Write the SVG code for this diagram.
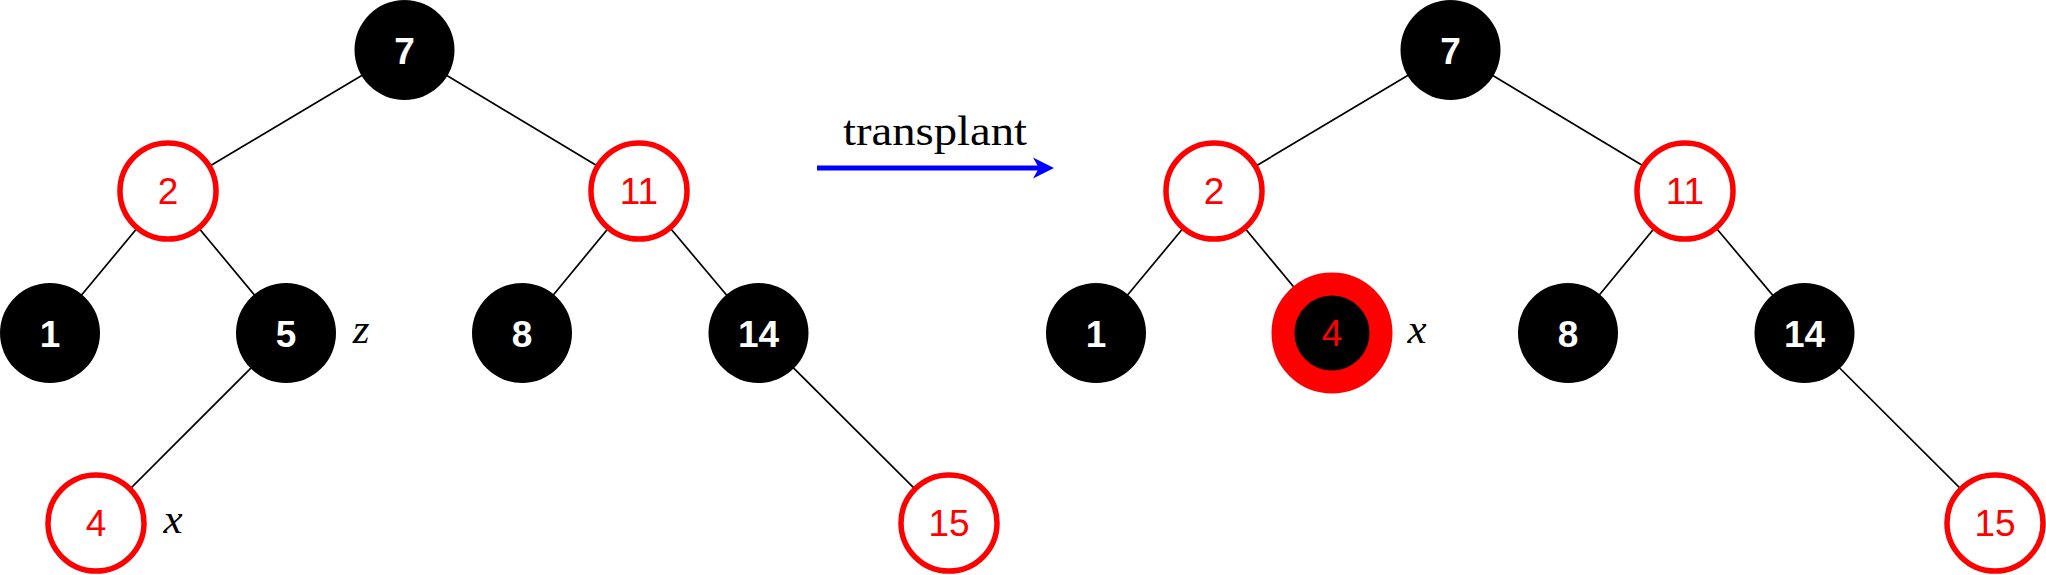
<svg xmlns="http://www.w3.org/2000/svg" width="2046" height="575" viewBox="0 0 2046 575">
<style>
.edge{stroke:#000;stroke-width:1.7;fill:none}
.blk{fill:#000}
.red{fill:#fff;stroke:#f00;stroke-width:5.5}
.bt{font-family:"Liberation Sans",Arial,sans-serif;font-weight:bold;font-size:37px;fill:#fff;text-anchor:middle}
.rt{font-family:"Liberation Sans",Arial,sans-serif;font-size:37px;fill:#f00;text-anchor:middle}
.lbl{font-family:"Liberation Serif","Times New Roman",serif;font-style:italic;font-size:43px;fill:#000;text-anchor:middle}
</style>
<rect width="2046" height="575" fill="#fff"/>
<g id="connectors">
<line class="edge" x1="404.5" y1="50" x2="168" y2="191"/>
<line class="edge" x1="404.5" y1="50" x2="639" y2="191"/>
<line class="edge" x1="168" y1="191" x2="50" y2="333"/>
<line class="edge" x1="168" y1="191" x2="286" y2="333"/>
<line class="edge" x1="639" y1="191" x2="522" y2="333"/>
<line class="edge" x1="639" y1="191" x2="758.5" y2="333"/>
<line class="edge" x1="286" y1="333" x2="96" y2="523"/>
<line class="edge" x1="758.5" y1="333" x2="949" y2="523"/>
<line class="edge" x1="1450.5" y1="50" x2="1214" y2="191"/>
<line class="edge" x1="1450.5" y1="50" x2="1685" y2="191"/>
<line class="edge" x1="1214" y1="191" x2="1096" y2="333"/>
<line class="edge" x1="1214" y1="191" x2="1332" y2="333"/>
<line class="edge" x1="1685" y1="191" x2="1568" y2="333"/>
<line class="edge" x1="1685" y1="191" x2="1804.5" y2="333"/>
<line class="edge" x1="1804.5" y1="333" x2="1995" y2="523"/>
<g id="transplant-arrow">
<line x1="817" y1="168" x2="1040" y2="168" stroke="#00f" stroke-width="5"/>
<path d="M1054,168 L1033,157.5 L1039,168 L1033,178.5 Z" fill="#00f"/>
<text x="935" y="145" font-family="'Liberation Serif','Times New Roman',serif" font-size="42" text-anchor="middle" textLength="184" lengthAdjust="spacingAndGlyphs">transplant</text>
</g>
</g>
<g id="L7"><circle class="blk" cx="404.5" cy="50" r="50"/><text class="bt" x="404.5" y="63.5">7</text></g>
<g id="L2"><circle class="red" cx="168" cy="191" r="48"/><text class="rt" x="168" y="204">2</text></g>
<g id="L11"><circle class="red" cx="639" cy="191" r="48"/><text class="rt" x="639" y="204">11</text></g>
<g id="L1"><circle class="blk" cx="50" cy="333" r="50"/><text class="bt" x="50" y="346.5">1</text></g>
<g id="L5"><circle class="blk" cx="286" cy="333" r="50"/><text class="bt" x="286" y="346.5">5</text></g>
<g id="L8"><circle class="blk" cx="522" cy="333" r="50"/><text class="bt" x="522" y="346.5">8</text></g>
<g id="L14"><circle class="blk" cx="758.5" cy="333" r="50"/><text class="bt" x="758.5" y="346.5">14</text></g>
<g id="L4"><circle class="red" cx="96" cy="523" r="48"/><text class="rt" x="96" y="536">4</text></g>
<g id="L15"><circle class="red" cx="949" cy="523" r="48"/><text class="rt" x="949" y="536">15</text></g>
<g id="Lz"><text class="lbl" x="361" y="343">z</text></g>
<g id="Lx"><text class="lbl" x="173" y="533">x</text></g>
<g id="R7"><circle class="blk" cx="1450.5" cy="50" r="50"/><text class="bt" x="1450.5" y="63.5">7</text></g>
<g id="R2"><circle class="red" cx="1214" cy="191" r="48"/><text class="rt" x="1214" y="204">2</text></g>
<g id="R11"><circle class="red" cx="1685" cy="191" r="48"/><text class="rt" x="1685" y="204">11</text></g>
<g id="R1"><circle class="blk" cx="1096" cy="333" r="50"/><text class="bt" x="1096" y="346.5">1</text></g>
<g id="R4"><circle cx="1332" cy="333" r="49" fill="#000" stroke="#f00" stroke-width="23"/><text class="rt" x="1332" y="346">4</text></g>
<g id="R8"><circle class="blk" cx="1568" cy="333" r="50"/><text class="bt" x="1568" y="346.5">8</text></g>
<g id="R14"><circle class="blk" cx="1804.5" cy="333" r="50"/><text class="bt" x="1804.5" y="346.5">14</text></g>
<g id="R15"><circle class="red" cx="1995" cy="523" r="48"/><text class="rt" x="1995" y="536">15</text></g>
<g id="Rx"><text class="lbl" x="1417" y="343">x</text></g>
</svg>
